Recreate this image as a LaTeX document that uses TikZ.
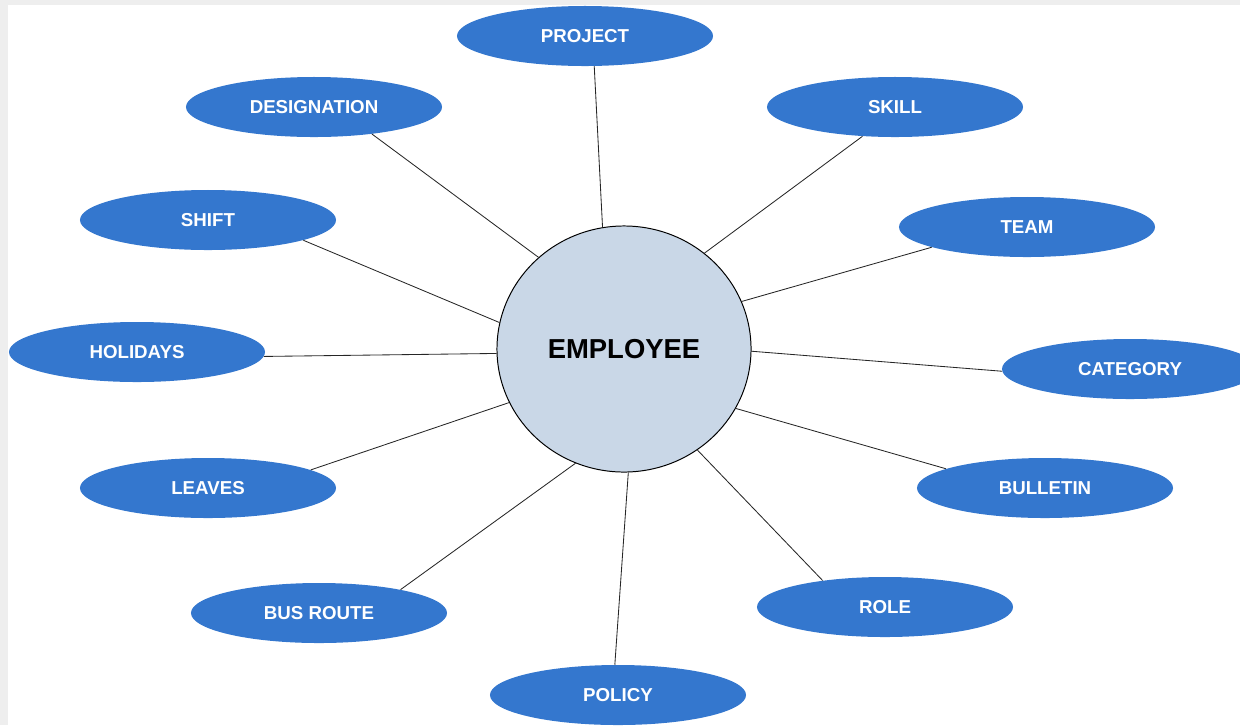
\documentclass[tikz,border=0pt]{standalone}
\usepackage{xcolor}
\usepackage{fontspec}
\setmainfont{Liberation Sans}
\usetikzlibrary{shapes.geometric}

\definecolor{attrblue}{RGB}{52,119,206}
\definecolor{mainfill}{RGB}{201,215,231}
\definecolor{framegray}{RGB}{238,238,238}

\begin{document}
\begin{tikzpicture}[x=0.025cm, y=-0.025cm,
		attr/.style={ellipse, fill=attrblue, text=white, inner sep=0pt,
			minimum width=6.4cm, minimum height=1.5cm,
			font=\fontsize{13.3pt}{16pt}\selectfont\bfseries},
		entity/.style={ellipse, draw=black, line width=0.7pt, fill=mainfill, inner sep=0pt,
			minimum width=6.35cm, minimum height=6.15cm,
			font=\fontsize{19.5pt}{23pt}\selectfont\bfseries},
		link/.style={line width=0.6pt, draw=black!85}]
			\useasboundingbox (0,0) rectangle (1240,725);
			\clip (0,0) rectangle (1240,725);
			\fill[framegray] (0,0) rectangle (1240,5);
			\fill[framegray] (0,0) rectangle (8,725);
			% attributes
			\node[attr] (project) at (585,36) {PROJECT};
			\node[attr] (designation) at (314,107) {DESIGNATION};
			\node[attr] (skill) at (895,107) {SKILL};
			\node[attr] (shift) at (208,220) {SHIFT};
			\node[attr] (team) at (1027,227) {TEAM};
			\node[attr] (holidays) at (137,352) {HOLIDAYS};
			\node[attr] (category) at (1130,369) {CATEGORY};
			\node[attr] (leaves) at (208,488) {LEAVES};
			\node[attr] (bulletin) at (1045,488) {BULLETIN};
			\node[attr] (busroute) at (319,613) {BUS ROUTE};
			\node[attr] (role) at (885,607) {ROLE};
			\node[attr] (policy) at (618,695) {POLICY};
			% entity
			\node[entity] (employee) at (624,349) {EMPLOYEE};
			% links
			\draw[link] (employee.100) -- (project.-73);
			\draw[link] (employee.133) -- (designation.-25);
			\draw[link] (employee.50) -- (skill.-138);
			\draw[link] (employee.168.5) -- (shift.-12);
			\draw[link] (employee.22.5) -- (team.-168);
			\draw[link] (employee.182.7) -- (holidays.-2);
			\draw[link] (employee.-1.3) -- (category.181);
			\draw[link] (employee.205.8) -- (leaves.10.5);
			\draw[link] (employee.-28.2) -- (bulletin.169.5);
			\draw[link] (employee.-113.7) -- (busroute.16);
			\draw[link] (employee.-54.3) -- (role.157);
			\draw[link] (employee.-88.6) -- (policy.96);
		\end{tikzpicture}
\end{document}
